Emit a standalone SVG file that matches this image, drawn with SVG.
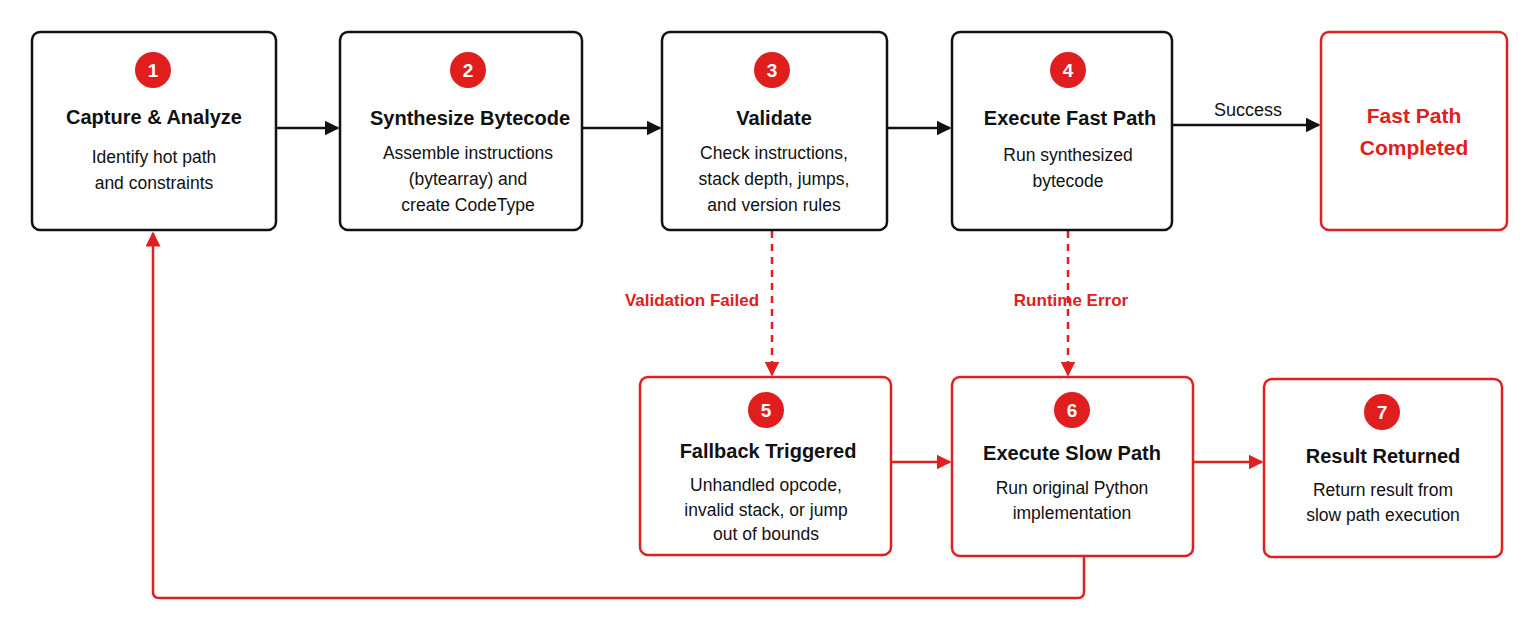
<svg xmlns="http://www.w3.org/2000/svg" width="1536" height="630" viewBox="0 0 1536 630">
<style>
.n{fill:#fff;stroke:#111;stroke-width:2.5}
.r{fill:#fff;stroke:#e02020;stroke-width:2.5}
.c{fill:#e01e1e}
.num{font:bold 19px "Liberation Sans",sans-serif;fill:#fff;text-anchor:middle}
.t{font:bold 20px "Liberation Sans",sans-serif;fill:#111;text-anchor:middle}
.b{font:17.5px "Liberation Sans",sans-serif;fill:#111;text-anchor:middle}
.rt{font:bold 21px "Liberation Sans",sans-serif;fill:#e02020;text-anchor:middle}
.lb{font:bold 17px "Liberation Sans",sans-serif;fill:#e02020;text-anchor:middle}
.lk{font:18px "Liberation Sans",sans-serif;fill:#111;text-anchor:middle}
.k{stroke:#111;stroke-width:2.5;fill:none}
.e{stroke:#e02020;stroke-width:2.5;fill:none}
</style>
<defs>
<marker id="ak" viewBox="0 0 10 10" refX="9" refY="5" markerWidth="6" markerHeight="6" orient="auto"><path d="M0,0L10,5L0,10z" fill="#111"/></marker>
<marker id="ar" viewBox="0 0 10 10" refX="9" refY="5" markerWidth="6" markerHeight="6" orient="auto"><path d="M0,0L10,5L0,10z" fill="#e02020"/></marker>
</defs>
<rect width="1536" height="630" fill="#fff"/>
<g id="connectors">
<line class="k" x1="277" y1="128" x2="338" y2="128" marker-end="url(#ak)"/>
<line class="k" x1="583" y1="128" x2="660" y2="128" marker-end="url(#ak)"/>
<line class="k" x1="888" y1="128" x2="950" y2="128" marker-end="url(#ak)"/>
<line class="k" x1="1173" y1="125" x2="1319" y2="125" marker-end="url(#ak)"/>
<text class="lk" x="1248" y="116">Success</text>
<line class="e" x1="772" y1="231" x2="772" y2="375" stroke-dasharray="7,6" marker-end="url(#ar)"/>
<text class="lb" x="692" y="306">Validation Failed</text>
<line class="e" x1="1068" y1="231" x2="1068" y2="375" stroke-dasharray="7,6" marker-end="url(#ar)"/>
<text class="lb" x="1071" y="306">Runtime Error</text>
<line class="e" x1="892" y1="462" x2="950" y2="462" marker-end="url(#ar)"/>
<line class="e" x1="1194" y1="462" x2="1262" y2="462" marker-end="url(#ar)"/>
<path class="e" d="M1084,557V592Q1084,598 1078,598H159Q153,598 153,592V233" marker-end="url(#ar)"/>
</g>
<g id="n1"><rect class="n" x="32" y="32" width="244" height="198" rx="8"/><circle class="c" cx="153" cy="70" r="18"/><text class="num" x="153" y="77">1</text><text class="t" x="154" y="124">Capture &amp; Analyze</text><text class="b" x="154" y="163">Identify hot path</text><text class="b" x="154" y="189">and constraints</text></g>
<g id="n2"><rect class="n" x="340" y="32" width="242" height="198" rx="8"/><circle class="c" cx="468" cy="70" r="18"/><text class="num" x="468" y="77">2</text><text class="t" x="470" y="125">Synthesize Bytecode</text><text class="b" x="468" y="159">Assemble instructions</text><text class="b" x="468" y="185">(bytearray) and</text><text class="b" x="468" y="211">create CodeType</text></g>
<g id="n3"><rect class="n" x="662" y="32" width="225" height="198" rx="8"/><circle class="c" cx="772" cy="70" r="18"/><text class="num" x="772" y="77">3</text><text class="t" x="774" y="125">Validate</text><text class="b" x="774" y="159">Check instructions,</text><text class="b" x="774" y="185">stack depth, jumps,</text><text class="b" x="774" y="211">and version rules</text></g>
<g id="n4"><rect class="n" x="952" y="32" width="220" height="198" rx="8"/><circle class="c" cx="1068" cy="70" r="18"/><text class="num" x="1068" y="77">4</text><text class="t" x="1070" y="125">Execute Fast Path</text><text class="b" x="1068" y="161">Run synthesized</text><text class="b" x="1068" y="187">bytecode</text></g>
<g id="fp"><rect class="r" x="1321" y="32" width="186" height="198" rx="8"/><text class="rt" x="1414" y="123">Fast Path</text><text class="rt" x="1414" y="155">Completed</text></g>
<g id="n5"><rect class="r" x="640" y="377" width="251" height="178" rx="8"/><circle class="c" cx="766" cy="410" r="18"/><text class="num" x="766" y="417">5</text><text class="t" x="768" y="458">Fallback Triggered</text><text class="b" x="766" y="491">Unhandled opcode,</text><text class="b" x="766" y="516">invalid stack, or jump</text><text class="b" x="766" y="540">out of bounds</text></g>
<g id="n6"><rect class="r" x="952" y="377" width="241" height="179" rx="8"/><circle class="c" cx="1072" cy="410" r="18"/><text class="num" x="1072" y="417">6</text><text class="t" x="1072" y="460">Execute Slow Path</text><text class="b" x="1072" y="494">Run original Python</text><text class="b" x="1072" y="519">implementation</text></g>
<g id="n7"><rect class="r" x="1264" y="379" width="238" height="178" rx="8"/><circle class="c" cx="1382" cy="412" r="18"/><text class="num" x="1382" y="419">7</text><text class="t" x="1383" y="463">Result Returned</text><text class="b" x="1383" y="496">Return result from</text><text class="b" x="1383" y="521">slow path execution</text></g>
</svg>
